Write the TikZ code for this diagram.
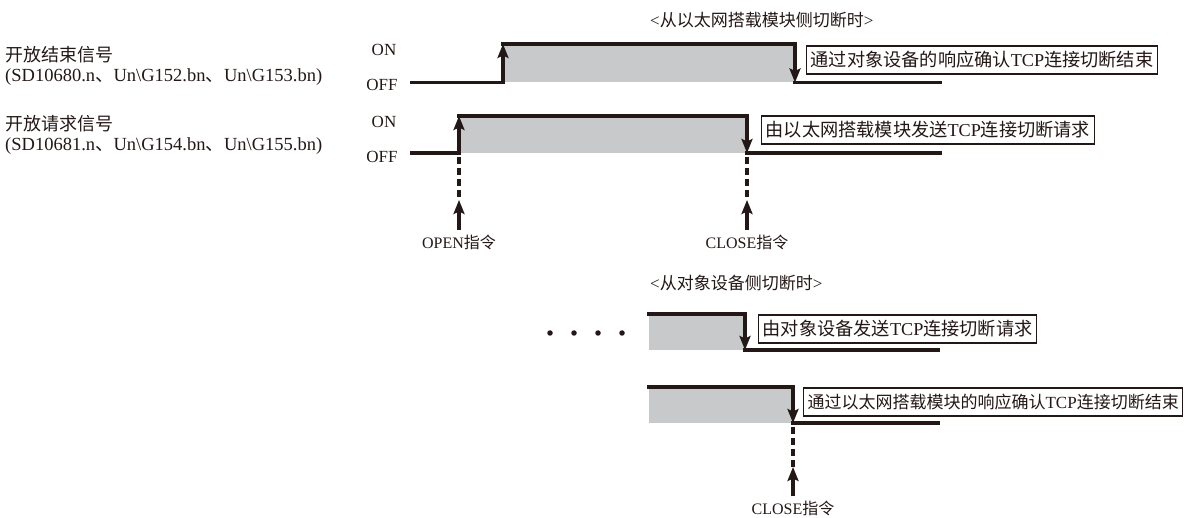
\documentclass[tikz,border=0pt]{standalone}
\usepackage{fontspec}
\setmainfont{Liberation Serif}
\newfontfamily\cjk{Noto Sans CJK SC}
\usetikzlibrary{arrows.meta}
\definecolor{ink}{RGB}{35,24,21}
\definecolor{graybar}{RGB}{200,201,203}
\newcommand\fsz[1]{\fontsize{#1pt}{#1pt}\selectfont}
\newcommand\lat[1]{{\rmfamily #1}}
\begin{document}
\begin{tikzpicture}[x=1pt,y=-1pt,
  sig/.style={draw=ink,line width=3.2pt,line cap=rect},
  edgearrow/.style={draw=ink,line width=3.2pt,-{Stealth[length=14pt,width=11pt,inset=2.5pt]}},
  dashline/.style={draw=ink,line width=3.2pt,dash pattern=on 7pt off 4pt,dash phase=7pt},
  callout/.style={draw=ink,line width=1.2pt,fill=white,anchor=west,minimum height=28pt,inner xsep=4pt,inner ysep=2pt,text=ink,font=\cjk\fsz{18.2}},
  levellbl/.style={text=ink,font=\rmfamily\fsz{17},inner sep=0pt},
  sidelbl/.style={text=ink,anchor=west,inner sep=0pt},
  heading/.style={text=ink,anchor=west,inner sep=0pt,font=\cjk\fsz{17}},
  cmdlbl/.style={text=ink,inner xsep=0pt,inner ysep=4pt,font=\cjk\fsz{16}},
  dotmark/.style={fill=ink,circle,inner sep=0pt,minimum size=5.5pt}
]
\useasboundingbox (0,0) rectangle (1186,518);

% ---------- side labels ----------
\node[sidelbl,font=\cjk\fsz{18}] (lab1a) at (5,55) {开放结束信号};
\node[sidelbl,font=\rmfamily\fsz{18.5}] (lab1b) at (5,77) {(SD10680.n{\cjk 、}Un\textbackslash G152.bn{\cjk 、}Un\textbackslash G153.bn)};
\node[sidelbl,font=\cjk\fsz{18}] (lab2a) at (5,124) {开放请求信号};
\node[sidelbl,font=\rmfamily\fsz{18.5}] (lab2b) at (5,146) {(SD10681.n{\cjk 、}Un\textbackslash G154.bn{\cjk 、}Un\textbackslash G155.bn)};

\node[levellbl] (on1) at (384,50) {ON};
\node[levellbl] (off1) at (382,85) {OFF};
\node[levellbl] (on2) at (384,122) {ON};
\node[levellbl] (off2) at (382,157) {OFF};

% ---------- headings ----------
\node[heading] (head1) at (650,20) {\lat{<}从以太网搭载模块侧切断时\lat{>}};
\node[heading] (head2) at (650,283) {\lat{<}从对象设备侧切断时\lat{>}};

% ---------- coordinates ----------
\coordinate (a1) at (412,82.5); \coordinate (b1) at (503,82.5);
\coordinate (c1) at (503,44);   \coordinate (d1) at (795,44);
\coordinate (e1) at (795,82.5); \coordinate (f1) at (940,82.5);

\coordinate (a2) at (412,153);  \coordinate (b2) at (459,153);
\coordinate (c2) at (459,116);  \coordinate (d2) at (747,116);
\coordinate (e2) at (747,153);  \coordinate (f2) at (940,153);

\coordinate (c3) at (649,314);  \coordinate (d3) at (745,314);
\coordinate (e3) at (745,350);  \coordinate (f3) at (938,350);

\coordinate (c4) at (649,387);  \coordinate (d4) at (793,387);
\coordinate (e4) at (793,423);  \coordinate (f4) at (938,423);

\coordinate (opentip) at (459,200);
\coordinate (closetip) at (747,200);
\coordinate (closetipb) at (793,467);

% ---------- shaded ON periods ----------
\fill[fill=graybar] (c1) rectangle (e1);
\fill[fill=graybar] (c2) rectangle (e2);
\fill[fill=graybar] (c3) rectangle (e3);
\fill[fill=graybar] (c4) rectangle (e4);

% ---------- signal 1 ----------
\draw[sig] (a1) -- (b1);
\draw[edgearrow] (b1) -- (c1);
\draw[sig] (c1) -- (d1);
\draw[edgearrow] (d1) -- (e1);
\draw[sig] (e1) -- (f1);

% ---------- signal 2 ----------
\draw[sig] (a2) -- (b2);
\draw[edgearrow] (b2) -- (c2);
\draw[sig] (c2) -- (d2);
\draw[edgearrow] (d2) -- (e2);
\draw[sig] (e2) -- (f2);

% ---------- signal 3 ----------
\draw[sig] (c3) -- (d3);
\draw[edgearrow] (d3) -- (e3);
\draw[sig] (e3) -- (f3);

% ---------- signal 4 ----------
\draw[sig] (c4) -- (d4);
\draw[edgearrow] (d4) -- (e4);
\draw[sig] (e4) -- (f4);

% ---------- dots ----------
\node[dotmark] (dot1) at (550,333) {};
\node[dotmark] (dot2) at (574,333) {};
\node[dotmark] (dot3) at (598,333) {};
\node[dotmark] (dot4) at (622,333) {};

% ---------- callouts ----------
\node[callout] (box1) at (806,60) {通过对象设备的响应确认\lat{TCP}连接切断结束};
\node[callout] (box2) at (761,130) {由以太网搭载模块发送\lat{TCP}连接切断请求};
\node[callout] (box3) at (758,329) {由对象设备发送\lat{TCP}连接切断请求};
\node[callout,font=\cjk\fsz{17}] (box4) at (803,402) {通过以太网搭载模块的响应确认\lat{TCP}连接切断结束};

% ---------- command labels and arrows ----------
\node[cmdlbl] (openlbl) at (459,242) {\lat{OPEN}指令};
\node[cmdlbl] (closelbl) at (747,242) {\lat{CLOSE}指令};
\node[cmdlbl] (closelblb) at (793,508) {\lat{CLOSE}指令};

\draw[dashline] (b2) -- (opentip);
\draw[dashline] (e2) -- (closetip);
\draw[dashline] (e4) -- (closetipb);

\draw[edgearrow] (openlbl.north) -- (opentip);
\draw[edgearrow] (closelbl.north) -- (closetip);
\draw[edgearrow] (closelblb.north) -- (closetipb);
\end{tikzpicture}
\end{document}
